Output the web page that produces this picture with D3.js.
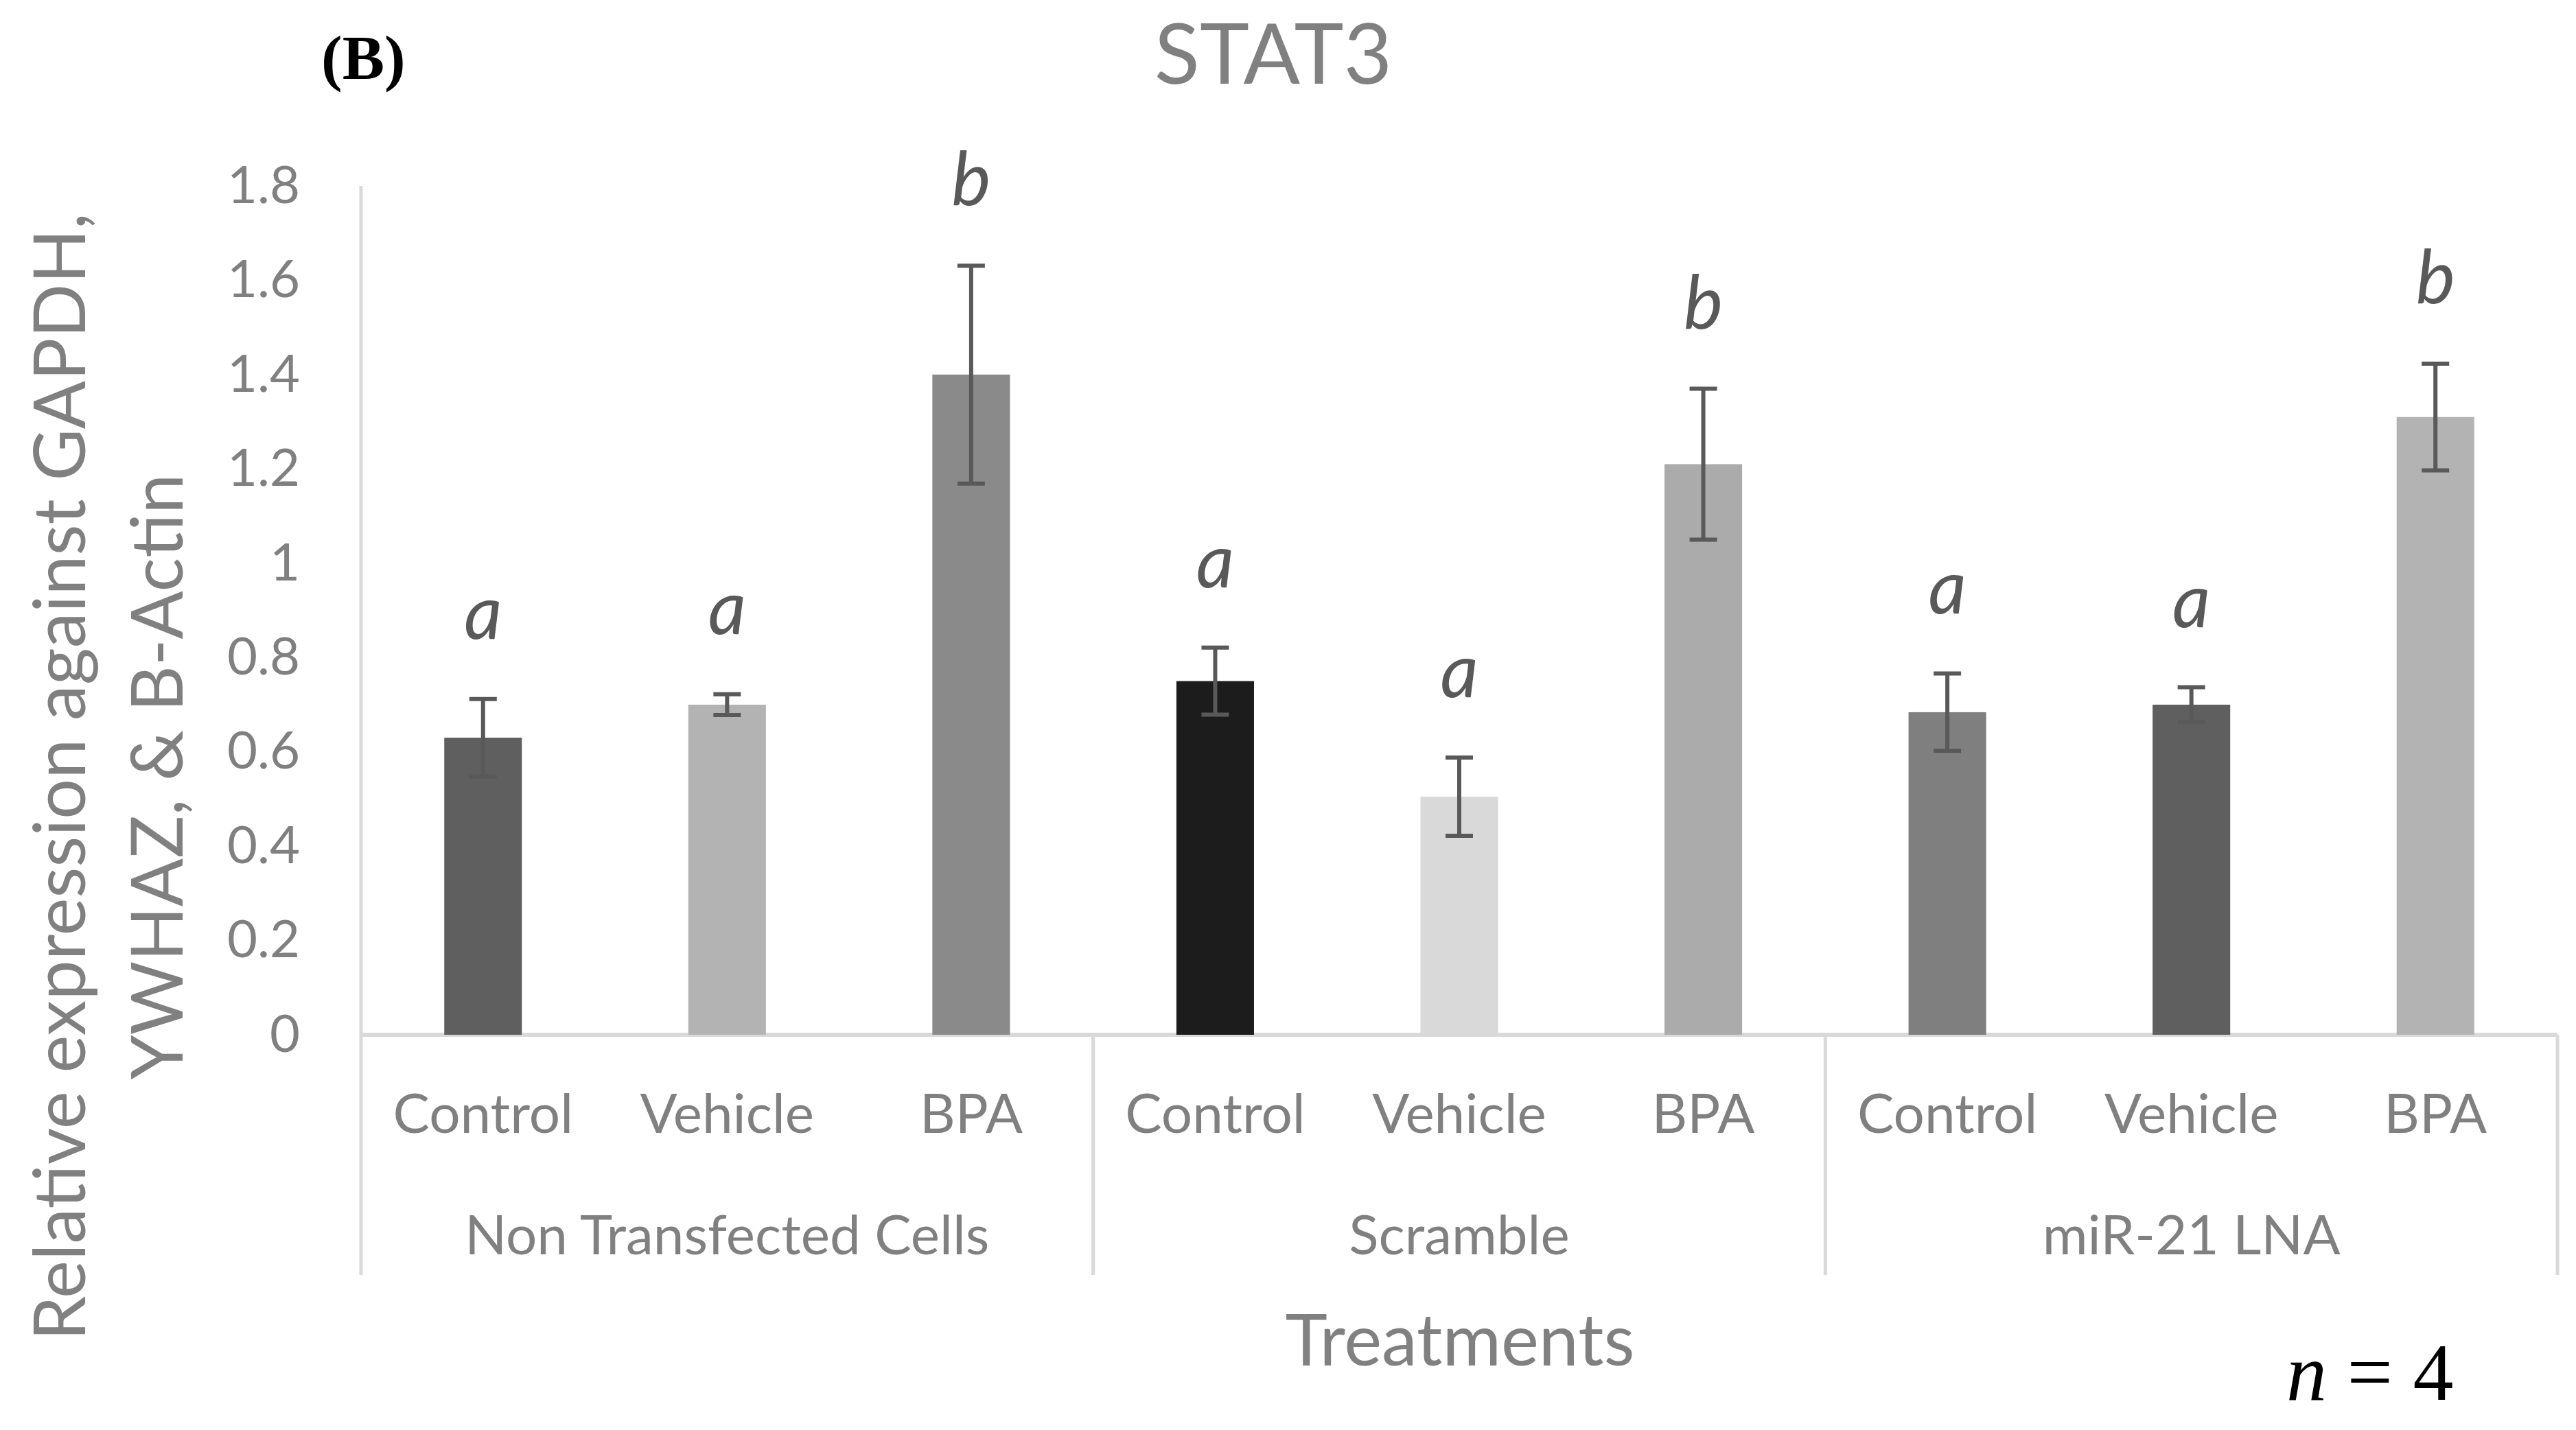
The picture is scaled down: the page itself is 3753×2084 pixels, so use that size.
<!DOCTYPE html>
<html>
<head>
<meta charset="utf-8">
<script src="https://cdn.jsdelivr.net/npm/d3@7"></script>
<style>
  html, body { margin: 0; padding: 0; background: #ffffff; }
  svg { display: block; }
</style>
</head>
<body>
<svg id="chart" width="3753" height="2084"></svg>
<script>
// ---------------- data ----------------
const groups = ["Non Transfected Cells", "Scramble", "miR-21 LNA"];
const treatments = ["Control", "Vehicle", "BPA"];
const nonTransfectedMean = [0.63, 0.70, 1.40];
const nonTransfectedErr  = [0.082, 0.022, 0.231];
const scrambleMean = [0.75, 0.505, 1.21];
const scrambleErr  = [0.071, 0.083, 0.16];
const lnaMean = [0.684, 0.70, 1.31];
const lnaErr  = [0.082, 0.037, 0.113];
const nonTransfectedLetters = ["a", "a", "b"];
const scrambleLetters = ["a", "a", "b"];
const lnaLetters = ["a", "a", "b"];
const yTickLabels = ["0", "0.2", "0.4", "0.6", "0.8", "1", "1.2", "1.4", "1.6", "1.8"];

// styles (not data)
const barColors = [
  ["#5f5f5f", "#b3b3b3", "#8a8a8a"],
  ["#1c1c1c", "#d9d9d9", "#ababab"],
  ["#7f7f7f", "#5f5f5f", "#b3b3b3"]
];

(function () {
const means = [nonTransfectedMean, scrambleMean, lnaMean];
const errs = [nonTransfectedErr, scrambleErr, lnaErr];
const letters = [nonTransfectedLetters, scrambleLetters, lnaLetters];

const rows = [];
groups.forEach((g, gi) => {
  treatments.forEach((t, ti) => {
    rows.push({ group: g, treatment: t, value: means[gi][ti], err: errs[gi][ti],
                letter: letters[gi][ti], color: barColors[gi][ti] });
  });
});

// ---------------- layout ----------------
const svg = d3.select("#chart");
const plotLeft = 526, plotRight = 3726, plotTop = 271, plotBottom = 1508;
const axisColor = "#d9d9d9";
const textGray = "#808080";
const darkGray = "#595959";
const sans = "Lato, 'Open Sans', sans-serif";

const y = d3.scaleLinear().domain([0, 1.8]).range([plotBottom, plotTop]);
const x0 = d3.scaleBand().domain(groups).range([plotLeft, plotRight]).padding(0);
const x1 = d3.scaleBand().domain(treatments).range([0, x0.bandwidth()])
  .paddingInner(0.682).paddingOuter(0.341);

// Title
svg.append("text")
  .attr("x", 1855).attr("y", 122)
  .attr("text-anchor", "middle")
  .attr("font-family", sans).attr("font-size", 122)
  .attr("fill", textGray)
  .text("STAT3");

// Panel label
svg.append("text")
  .attr("x", 468).attr("y", 115)
  .attr("font-family", "'Liberation Serif', 'Times New Roman', serif")
  .attr("font-weight", "bold").attr("font-size", 92)
  .attr("fill", "#000")
  .text("(B)");

// Y axis ticks
const yAxis = d3.axisLeft(y)
  .tickValues(yTickLabels.map(Number))
  .tickFormat((d, i) => yTickLabels[i])
  .tickSize(0).tickPadding(89);
const gy = svg.append("g").attr("transform", `translate(${plotLeft},0)`).call(yAxis);
gy.select(".domain").remove();
gy.selectAll("text")
  .attr("font-family", sans).attr("font-size", 76)
  .attr("fill", textGray);

// Axis lines
svg.append("line")
  .attr("x1", plotLeft).attr("x2", plotLeft)
  .attr("y1", y(1.8)).attr("y2", plotBottom)
  .attr("stroke", axisColor).attr("stroke-width", 5);
svg.append("line")
  .attr("x1", plotLeft).attr("x2", plotRight)
  .attr("y1", plotBottom).attr("y2", plotBottom)
  .attr("stroke", axisColor).attr("stroke-width", 6);

// Group dividers
const dividerX = groups.map(g => x0(g)).concat([x0(groups[groups.length - 1]) + x0.bandwidth()]);
svg.selectAll("line.div").data(dividerX).enter().append("line")
  .attr("class", "div")
  .attr("x1", d => d).attr("x2", d => d)
  .attr("y1", plotBottom).attr("y2", 1858)
  .attr("stroke", axisColor).attr("stroke-width", 5);

// Bars
svg.selectAll("rect.bar").data(rows).enter().append("rect")
  .attr("class", "bar")
  .attr("x", d => x0(d.group) + x1(d.treatment))
  .attr("width", x1.bandwidth())
  .attr("y", d => y(d.value))
  .attr("height", d => plotBottom - y(d.value))
  .attr("fill", d => d.color);

// Error bars
const capHalf = 20;
const cx = d => x0(d.group) + x1(d.treatment) + x1.bandwidth() / 2;
const eb = svg.selectAll("g.err").data(rows).enter().append("g").attr("class", "err")
  .attr("stroke", darkGray).attr("stroke-width", 6);
eb.append("line")
  .attr("x1", cx).attr("x2", cx)
  .attr("y1", d => y(d.value + d.err)).attr("y2", d => y(d.value - d.err));
eb.append("line")
  .attr("x1", d => cx(d) - capHalf).attr("x2", d => cx(d) + capHalf)
  .attr("y1", d => y(d.value + d.err)).attr("y2", d => y(d.value + d.err));
eb.append("line")
  .attr("x1", d => cx(d) - capHalf).attr("x2", d => cx(d) + capHalf)
  .attr("y1", d => y(d.value - d.err)).attr("y2", d => y(d.value - d.err));

// Significance letters
svg.selectAll("text.letter").data(rows).enter().append("text")
  .attr("class", "letter")
  .attr("x", cx)
  .attr("y", d => y(d.value + d.err) - 88)
  .attr("text-anchor", "middle")
  .attr("font-family", sans).attr("font-style", "italic")
  .attr("font-size", 108)
  .attr("fill", darkGray)
  .text(d => d.letter);

// Category labels (per group axis)
groups.forEach(g => {
  const ax = d3.axisBottom(x1).tickSize(0);
  const gx = svg.append("g").attr("transform", `translate(${x0(g)},${plotBottom})`).call(ax);
  gx.select(".domain").remove();
  gx.selectAll("text")
    .attr("y", 143).attr("dy", null)
    .attr("font-family", sans).attr("font-size", 80)
    .attr("fill", textGray);
});

// Group labels
svg.selectAll("text.group").data(groups).enter().append("text")
  .attr("class", "group")
  .attr("x", d => x0(d) + x0.bandwidth() / 2)
  .attr("y", 1828)
  .attr("text-anchor", "middle")
  .attr("font-family", sans).attr("font-size", 80)
  .attr("fill", textGray)
  .text(d => d);

// X axis title
svg.append("text")
  .attr("x", 2127).attr("y", 1990)
  .attr("text-anchor", "middle")
  .attr("font-family", sans).attr("font-size", 104)
  .attr("fill", textGray)
  .text("Treatments");

// Y axis title (two lines)
const yTitle = svg.append("text")
  .attr("transform", "translate(0,1132) rotate(-90)")
  .attr("text-anchor", "middle")
  .attr("font-family", sans).attr("font-size", 104)
  .attr("fill", textGray);
yTitle.append("tspan").attr("x", 0).attr("y", 124).text("Relative expression against GAPDH,");
yTitle.append("tspan").attr("x", 0).attr("y", 266).text("YWHAZ, & B-Actin");

// n = 4
const nText = svg.append("text")
  .attr("x", 3331).attr("y", 2040)
  .attr("font-family", "'Liberation Serif', 'Times New Roman', serif")
  .attr("font-size", 118).attr("fill", "#000");
nText.append("tspan").attr("font-style", "italic").text("n");
nText.append("tspan").text(" = 4");
})();
</script>
</body>
</html>
